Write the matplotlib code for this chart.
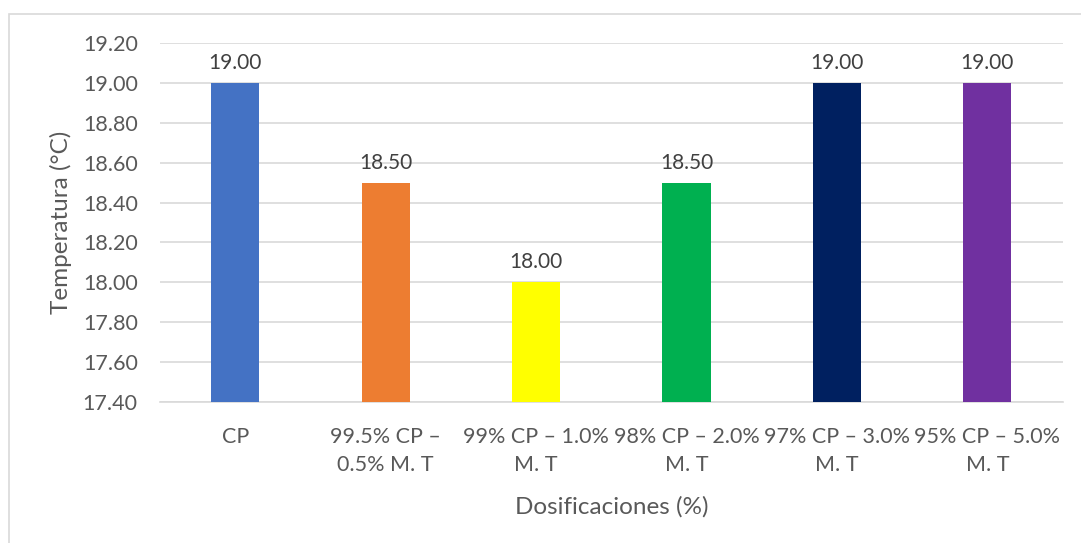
import matplotlib.pyplot as plt
from matplotlib.patches import Rectangle

categorias = ['CP', '99.5% CP –\n0.5% M. T', '99% CP – 1.0%\nM. T',
              '98% CP – 2.0%\nM. T', '97% CP – 3.0%\nM. T', '95% CP – 5.0%\nM. T']
temperaturas = [19.00, 18.50, 18.00, 18.50, 19.00, 19.00]
colores = ['#4472C4', '#ED7D31', '#FFFF00', '#00B050', '#002060', '#7030A0']
y_ticks = [17.40, 17.60, 17.80, 18.00, 18.20, 18.40, 18.60, 18.80, 19.00, 19.20]

plt.rcParams['font.family'] = ['Lato', 'DejaVu Sans']
texto = '#595959'

fig = plt.figure(figsize=(10.81, 5.43), dpi=100)
ax = fig.add_axes([0.148, 0.2597, 0.835, 0.661])

x = range(len(categorias))
ax.bar(x, temperaturas, width=0.32, color=colores, zorder=3)
for xi, v in zip(x, temperaturas):
    ax.text(xi, v + 0.05, f'{v:.2f}', ha='center', va='bottom', fontsize=15, color='#404040')

ax.set_ylim(17.40, 19.20)
ax.set_xlim(-0.5, len(categorias) - 0.5)
ax.set_yticks(y_ticks)
ax.set_yticklabels([f'{t:.2f}' for t in y_ticks])
ax.set_xticks(list(x))
ax.set_xticklabels(categorias, linespacing=1.5)
ax.tick_params(axis='both', length=0, labelsize=15.5, colors=texto)
ax.tick_params(axis='x', pad=18)
ax.tick_params(axis='y', pad=16)
ax.grid(axis='y', color='#D9D9D9', linewidth=1.2, zorder=0)
for s in ['top', 'right', 'left']:
    ax.spines[s].set_visible(False)
ax.spines['bottom'].set_color('#D9D9D9')
ax.spines['bottom'].set_linewidth(1.2)

ax.set_xlabel('Dosificaciones (%)', fontsize=17.5, color=texto, labelpad=15)
ax.set_ylabel('Temperatura (°C)', fontsize=17.5, color=texto, labelpad=8)

# marco del gráfico
fig.patches.append(Rectangle((9 / 1081, -0.05), 1.1, 1 - 14 / 543 + 0.05,
                             transform=fig.transFigure, fill=False,
                             edgecolor='#D9D9D9', linewidth=1.2))

fig.savefig('out.png', dpi=100)
